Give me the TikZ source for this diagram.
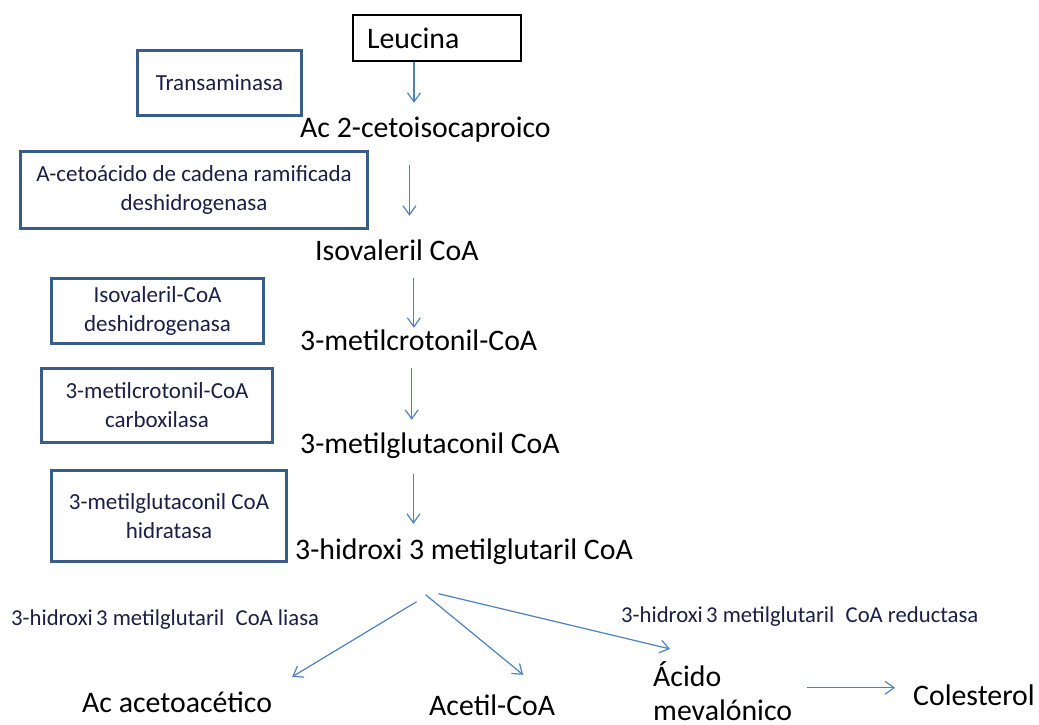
\documentclass[tikz,border=0pt]{standalone}
\usepackage{fontspec}
\setmainfont{Carlito}
\usetikzlibrary{arrows.meta,calc}
\definecolor{arrowblue}{RGB}{79,129,189}
\definecolor{boxblue}{RGB}{56,93,138}
\definecolor{enzymeink}{RGB}{28,30,70}
\begin{document}
\begin{tikzpicture}[x=1pt,y=-1pt,
  metabfont/.style={font=\fontsize{29.8}{34}\selectfont, inner sep=0pt},
  metab/.style={metabfont, text height=22pt, text depth=7.5pt, anchor=base west},
  enzbox/.style={draw=boxblue, line width=3pt, font=\fontsize{23}{29}\selectfont,
                 text=enzymeink, align=center, inner sep=0pt},
  enzlabel/.style={font=\fontsize{22.7}{29}\selectfont, text=enzymeink, inner sep=0pt, anchor=base west},
  arr/.style={draw=arrowblue, line width=1.2pt, -{Straight Barb[length=9pt,width=13pt]}}
]
\useasboundingbox (0,0) rectangle (1039,724);

% starting amino acid
\node[metabfont, draw=black, line width=1.2pt, minimum width=168pt, minimum height=46pt,
      text width=140pt, align=left, inner xsep=14pt] (leu) at (437,38) {Leucina};

% intermediates of the pathway
\node[metab] (ac2)  at (300,137) {Ac 2-cetoisocaproico};
\node[metab] (isov) at (315,260) {Isovaleril CoA};
\node[metab] (mcr)  at (300,350) {3-metilcrotonil-CoA};
\node[metab] (mgl)  at (300,453) {3-metilglutaconil CoA};
\node[metab] (hmg)  at (295,559) {3-hidroxi 3 metilglutaril CoA};

% end products
\node[metab] (aac) at (82,712)  {Ac acetoacético};
\node[metab] (acc) at (429,715) {Acetil-CoA};
\node[metabfont, align=left, anchor=base west] (mev) at (653,720) {Ácido\\mevalónico};
\node[metab] (col) at (913,705) {Colesterol};

% enzymes
\node[enzbox, minimum width=164pt, minimum height=65pt] (e1) at (219.5,83) {Transaminasa};
\node[enzbox, minimum width=347pt, minimum height=77pt] (e2) at (194,190)
  {A-cetoácido de cadena ramificada\\deshidrogenasa};
\node[enzbox, minimum width=212pt, minimum height=65pt] (e3) at (157.5,311)
  {Isovaleril-CoA\\deshidrogenasa};
\node[enzbox, minimum width=231pt, minimum height=74pt] (e4) at (157,405.5)
  {3-metilcrotonil-CoA\\carboxilasa};
\node[enzbox, minimum width=235pt, minimum height=91pt] (e5) at (169,516)
  {3-metilglutaconil CoA\\hidratasa};

\node[enzlabel] (lia) at (11,625) {3-hidroxi\hspace{0.15em}3 metilglutaril\hspace{0.5em}CoA liasa};
\node[enzlabel] (red) at (621,622) {3-hidroxi\hspace{0.15em}3 metilglutaril\hspace{0.5em}CoA reductasa};

% main chain
\draw[arr, shorten >=12pt] ([xshift=-23pt]leu.south) -- ([xshift=-23pt]leu.south |- ac2.north);
\draw[arr, shorten <=20pt, shorten >=22pt] ([xshift=-16pt]ac2.south) -- ([xshift=-16pt]ac2.south |- isov.north);
\draw[arr, shorten <=10pt] ([xshift=17pt]isov.south) -- ([xshift=17pt]isov.south |- mcr.north);
\draw[arr, shorten <=10pt, shorten >=11pt] ([xshift=-7pt]mcr.south) -- ([xshift=-7pt]mcr.south |- mgl.north);
\draw[arr, shorten <=13pt, shorten >=13pt] ([xshift=-16.5pt]mgl.south) -- ([xshift=-16.5pt]mgl.south |- hmg.north);

% branches
\draw[arr] ([shift={(-47.5pt,-35pt)}]hmg.south) -- ([shift={(20pt,13pt)}]aac.north east);
\draw[arr] ([shift={(-38.5pt,-28pt)}]hmg.south) -- ([shift={(31pt,18pt)}]acc.north);
\draw[arr] ([shift={(-25.5pt,-27pt)}]hmg.south) -- ([shift={(17pt,12pt)}]mev.north west);
\draw[arr, shorten <=15pt, shorten >=18pt] ([yshift=10pt]col.west -| mev.east) -- ([yshift=10pt]col.west);
\end{tikzpicture}
\end{document}
